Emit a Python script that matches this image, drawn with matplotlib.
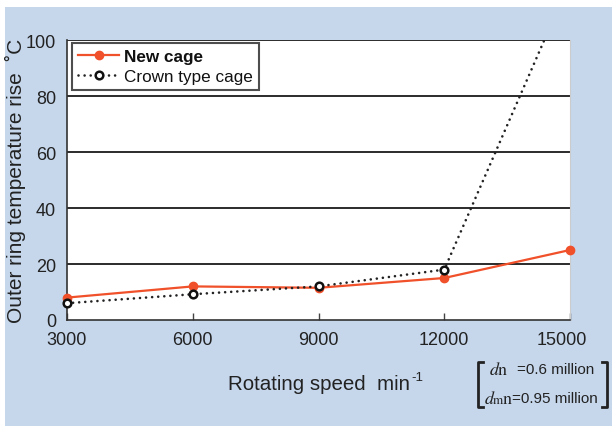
import matplotlib
matplotlib.use("Agg")
import matplotlib.pyplot as plt
from matplotlib.patches import Rectangle
from matplotlib.lines import Line2D
from matplotlib.transforms import ScaledTranslation

# Rotating speed (min^-1)
speeds = [3000, 6000, 9000, 12000, 15000]
# Outer ring temperature rise (deg C)
new_cage = [8, 12, 11.5, 15, 25]
crown_cage = [6, 9.2, 12, 18, 121]

x_ticks = [3000, 6000, 9000, 12000, 15000]
y_ticks = [0, 20, 40, 60, 80, 100]

ORANGE = "#f0502a"
BG = "#c6d7ec"
INK = "#222222"

plt.rcParams["font.family"] = ["Liberation Sans", "DejaVu Sans"]

W, H = 612, 427
fig = plt.figure(figsize=(W / 100, H / 100), dpi=100)
fig.patch.set_facecolor("white")

# light blue panel behind the chart
fig.patches.append(Rectangle((5 / W, 0), 1 - 5 / W, 1 - 8 / H,
                             transform=fig.transFigure, facecolor=BG,
                             edgecolor="none", zorder=-10))

ax = fig.add_axes([67 / W, (H - 321) / H, (570 - 67) / W, (321 - 41) / H])
ax.set_facecolor("white")
ax.set_xlim(3000, 15000)
ax.set_ylim(0, 100)

for yv in y_ticks[1:]:
    ax.axhline(yv, color="#1a1a1a", lw=1.3, zorder=1)

DOT = (0, (0.01, 2.3))
ax.plot(speeds, new_cage, color=ORANGE, lw=1.6, marker="o", ms=6,
        mfc=ORANGE, mec=ORANGE, zorder=3, clip_on=False)
# dotted line is clipped at the top of the plot, its markers are not
ax.plot(speeds, crown_cage, color="#222222", lw=1.9, ls=DOT,
        dash_capstyle="round", zorder=4)
ax.plot(speeds[:4], crown_cage[:4], ls="none", marker="o", ms=5.5, mfc="white",
        mec="#111111", mew=1.8, zorder=5, clip_on=False)

ax.set_xticks(x_ticks)
ax.set_xticklabels([str(v) for v in x_ticks], fontsize=13, color=INK)
ax.set_yticks(y_ticks)
ax.set_yticklabels([str(v) for v in y_ticks], fontsize=13, color=INK)
ax.tick_params(axis="x", direction="in", length=5, width=1, color="#444444", pad=8)
ax.tick_params(axis="y", length=0, pad=8)
# last x label sits a little inside the right edge
last = ax.get_xticklabels()[-1]
last.set_transform(last.get_transform() + ScaledTranslation(-8 / 100, 0, fig.dpi_scale_trans))

for side in ["left", "bottom"]:
    ax.spines[side].set_color("#333333")
    ax.spines[side].set_linewidth(1.2)
ax.spines["top"].set_visible(False)
ax.spines["right"].set_color("#cccccc")
ax.spines["right"].set_linewidth(0.8)

ax.set_ylabel("Outer ring temperature rise  ˚C", fontsize=15, color=INK)
ax.yaxis.set_label_coords((26 - 67) / 503, 0.5)

# legend
handles = [
    Line2D([], [], color=ORANGE, lw=1.6, marker="o", ms=6, mfc=ORANGE, mec=ORANGE),
    Line2D([], [], color="#222222", lw=1.9, ls=DOT, dash_capstyle="round",
           marker="o", ms=5.5, mfc="white", mec="#111111", mew=1.8),
]
leg = ax.legend(handles, ["New cage", "Crown type cage"], loc="upper left",
                bbox_to_anchor=(0.01, 0.988), fontsize=12.3, frameon=True,
                fancybox=False, handlelength=2.4, handletextpad=0.3,
                borderpad=0.35, labelspacing=0.25, borderaxespad=0.0)
leg.get_frame().set_edgecolor("#222222")
leg.get_frame().set_linewidth(1.5)
leg.get_texts()[0].set_fontweight("bold")
for t in leg.get_texts():
    t.set_color("#111111")

# x axis title with a small raised "-1"
xt = fig.text(228 / W, 1 - 385 / H, "Rotating speed  min", fontsize=14.8,
              ha="left", va="center", color=INK)
fig.canvas.draw()
bb = xt.get_window_extent()
fig.text((bb.x1 + 1) / W, 1 - 378 / H, "-1", fontsize=9.5, ha="left",
         va="center", color=INK)

# bracketed dn / dmn note
def fpx(x, y):
    return x / W, 1 - y / H

bx0, bx1, by0, by1 = 478, 607, 363, 408
for xs, ys in [
    ([bx0 + 5, bx0, bx0, bx0 + 5], [by0, by0, by1, by1]),
    ([bx1 - 5, bx1, bx1, bx1 - 5], [by0, by0, by1, by1]),
]:
    fig.lines.append(Line2D([x / W for x in xs], [1 - y / H for y in ys],
                            transform=fig.transFigure, color="#222222", lw=2))

SERIF = "STIXGeneral"
def serif(x, y, s, size=13, style="normal"):
    fig.text(*fpx(x, y), s, fontsize=size, family=SERIF, style=style,
             ha="left", va="baseline", color=INK)

# row 1: dn
serif(490, 375, "d", style="italic")
serif(498, 375, "n")
fig.text(*fpx(517, 370), "=0.6 million", fontsize=11, ha="left", va="center",
         color=INK)
# row 2: dmn
serif(485, 404, "d", style="italic")
serif(493, 404, "m", size=9.5)
serif(503, 404, "n")
fig.text(*fpx(512, 399), "=0.95 million", fontsize=11, ha="left", va="center",
         color=INK)

fig.savefig("out.png", dpi=100, facecolor=fig.get_facecolor())
